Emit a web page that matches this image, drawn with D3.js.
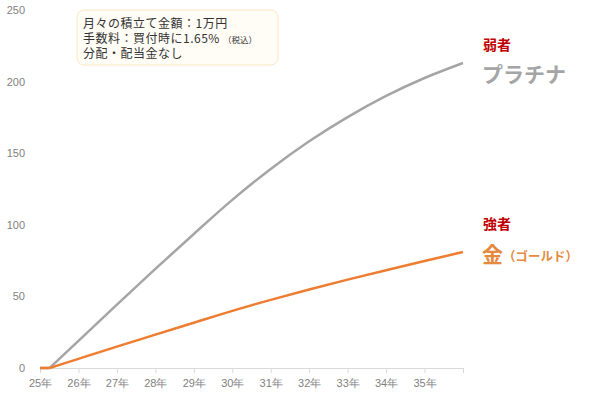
<!DOCTYPE html>
<html>
<head>
<meta charset="utf-8">
<script src="https://cdn.jsdelivr.net/npm/d3@7"></script>
<style>
  body { margin: 0; background: #fff; }
  svg { display: block; font-family: "Noto Sans CJK JP", "Noto Sans", sans-serif; }
  .axis text { fill: #7f7f7f; font-size: 11px; }
</style>
</head>
<body>
<div class="chart"></div>
<script>
// 年（2025年=25）、最初の3か月は0
let years = [25, 25.25, 26, 27, 28, 29, 30, 31, 32, 33, 34, 35, 36];
let platinum = [0, 0, 19, 44.2, 69.2, 93.6, 117.4, 139, 158.3, 175.2, 190, 202.5, 213];
let gold = [0, 0, 6.4, 14.9, 23.3, 31.6, 39.9, 47.6, 54.8, 61.7, 68.3, 74.7, 81];
let yearTicks = [25, 26, 27, 28, 29, 30, 31, 32, 33, 34, 35, 36];
let yTicks = [0, 50, 100, 150, 200, 250];
let noteLines = ["月々の積立て金額：1万円", "手数料：買付時に1.65%", "分配・配当金なし"];

let svgWidth = 600;
let svgHeight = 395;

let svg = d3.select(".chart")
  .append("svg")
  .attr("width", svgWidth)
  .attr("height", svgHeight);

let xScale = d3.scaleLinear()
  .domain([25, 36])
  .range([40, 463]);

let yScale = d3.scaleLinear()
  .domain([0, 250])
  .range([368, 10]);

// y axis: labels only
let leftAxis = d3.axisLeft(yScale)
  .tickValues(yTicks)
  .tickSize(0)
  .tickPadding(0);

let yAxis = svg.append("g")
  .attr("class", "axis")
  .attr("transform", "translate(25, 0)")
  .call(leftAxis);
yAxis.select(".domain").remove();

// x axis
let bottomAxis = d3.axisBottom(xScale)
  .tickValues(yearTicks)
  .tickSizeInner(5)
  .tickSizeOuter(0)
  .tickPadding(6)
  .tickFormat(d => d < 36 ? d + "年" : "");

let xAxis = svg.append("g")
  .attr("class", "axis")
  .attr("transform", `translate(0, ${yScale(0)})`)
  .call(bottomAxis);
xAxis.selectAll("line, path").attr("stroke", "#d9d9d9");

// flat start segment straight, rest smoothed
let flatLine = d3.line()
  .x(d => xScale(d.x))
  .y(d => yScale(d.y));

let curveLine = d3.line()
  .x(d => xScale(d.x))
  .y(d => yScale(d.y))
  .curve(d3.curveMonotoneX);

function drawSeries(values, color) {
  let pts = values.map((v, i) => ({ x: years[i], y: v }));
  svg.append("path")
    .datum(pts.slice(0, 2))
    .attr("d", flatLine)
    .attr("fill", "none")
    .attr("stroke", color)
    .attr("stroke-width", 2.5);
  svg.append("path")
    .datum(pts.slice(1))
    .attr("d", curveLine)
    .attr("fill", "none")
    .attr("stroke", color)
    .attr("stroke-width", 2.5);
}

drawSeries(platinum, "#a5a5a5");
drawSeries(gold, "#ed7d31");

// note box
svg.append("rect")
  .attr("x", 77)
  .attr("y", 10)
  .attr("width", 201)
  .attr("height", 55)
  .attr("rx", 7)
  .attr("fill", "#fffdf6")
  .attr("stroke", "#fbe6c2")
  .attr("stroke-width", 1);

// one text block, one tspan per line
let note = svg.append("text")
  .attr("x", 83)
  .attr("y", 27.5)
  .attr("font-size", "12px")
  .attr("letter-spacing", "0.5px")
  .attr("fill", "#333");

noteLines.forEach(function(t, i) {
  note.append("tspan")
    .attr("x", 83)
    .attr("y", 27.5 + i * 15)
    .text(t);
  if (i === 1) {
    note.append("tspan")
      .attr("font-size", "8.5px")
      .attr("letter-spacing", "0px")
      .attr("dx", 3)
      .text("（税込）");
  }
});

// series labels
svg.append("text")
  .attr("x", 483)
  .attr("y", 50)
  .attr("font-size", "14px")
  .attr("font-weight", "bold")
  .attr("fill", "#c00000")
  .text("弱者");

svg.append("text")
  .attr("x", 482)
  .attr("y", 82)
  .attr("font-size", "21px")
  .attr("font-weight", "bold")
  .attr("fill", "#a5a5a5")
  .text("プラチナ");

svg.append("text")
  .attr("x", 483)
  .attr("y", 229)
  .attr("font-size", "14px")
  .attr("font-weight", "bold")
  .attr("fill", "#c00000")
  .text("強者");

let goldLabel = svg.append("text")
  .attr("x", 482)
  .attr("y", 262)
  .attr("font-weight", "bold")
  .attr("fill", "#e58a3c");
goldLabel.append("tspan")
  .attr("font-size", "21px")
  .text("金");
goldLabel.append("tspan")
  .attr("font-size", "12.5px")
  .attr("dy", -1)
  .text("（ゴールド）");
</script>
</body>
</html>
